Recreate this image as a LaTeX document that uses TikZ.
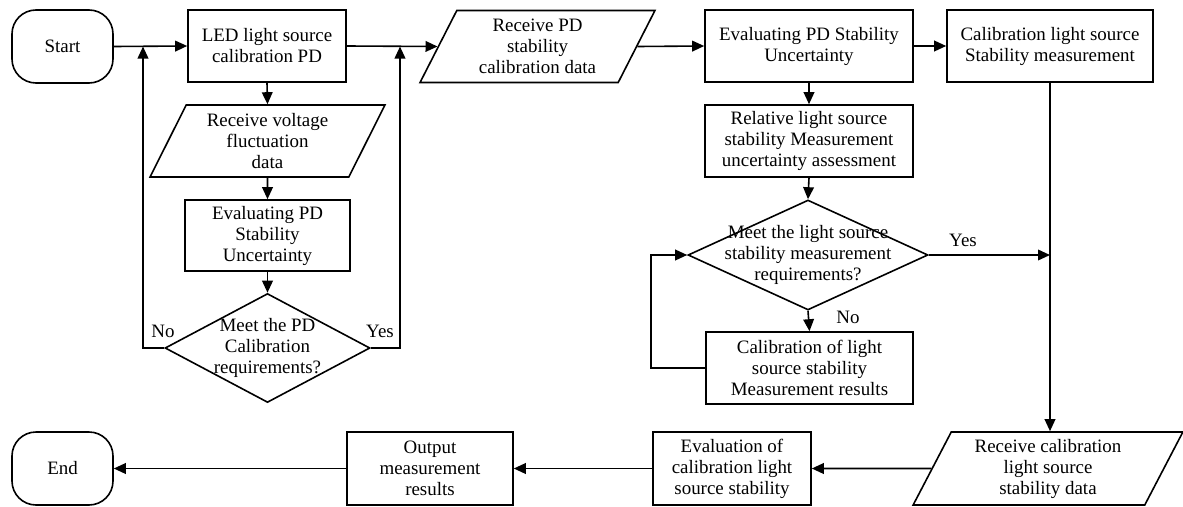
\documentclass[tikz,border=0pt]{standalone}
\usepackage{fontspec}
\setmainfont{Liberation Serif}
\usetikzlibrary{shapes.geometric,arrows.meta}

\newcommand{\pxu}{0.75pt}

\begin{document}
\begin{tikzpicture}[x=0.75pt, y=-0.75pt, line width=1.2pt,
    every node/.style={font=\fontsize{14.2}{15.75}\selectfont},
    box/.style={draw, rectangle, align=center, inner sep=0pt, minimum height=72*\pxu},
    data/.style={draw, trapezium, trapezium left angle=64, trapezium right angle=116,
        trapezium stretches=true, align=center, inner sep=0pt, minimum height=72*\pxu},
    term/.style={draw, rectangle, rounded corners=18pt, minimum width=101*\pxu, minimum height=73*\pxu},
    decision/.style={draw, diamond, inner sep=0pt},
    arr/.style={-{Triangle[length=9pt,width=8pt]}},
    lbl/.style={inner sep=0pt}]

    \useasboundingbox (0,0) rectangle (1183,507);

	% Top row
    \node (start) [term] at (62.5,46.5) {Start};
    \node (led) [box, minimum width=158*\pxu] at (267,46) {LED light source\\calibration PD};
    \node (recvPD) [data, minimum width=235*\pxu] at (537.5,46.5) {Receive PD\\stability\\calibration data};
    \node (evalPD) [box, minimum width=208*\pxu] at (809,46) {Evaluating PD Stability\\Uncertainty};
    \node (calib) [box, minimum width=206*\pxu] at (1050,46) {Calibration light source\\Stability measurement};

	% PD calibration loop
    \node (recvV) [data, minimum width=235*\pxu] at (267.5,141) {Receive voltage\\fluctuation\\data};
    \node (evalV) [box, minimum width=165*\pxu, minimum height=71*\pxu] at (267.5,235.5) {Evaluating PD\\Stability\\Uncertainty};
    \node (meetPD) [decision, minimum width=205*\pxu, minimum height=109*\pxu,
        label={[align=center]center:Meet the PD\\Calibration\\requirements?}] at (267.5,348) {};
    \coordinate (noJ) at (143,46.5);
    \coordinate (yesJ) at (400,46.5);
    \node (noPD) [lbl] at (163,331) {No};
    \node (yesPD) [lbl] at (380,331) {Yes};

	% Light source stability loop
    \node (rel) [box, minimum width=208*\pxu] at (809,141) {Relative light source\\stability Measurement\\uncertainty assessment};
    \node (meetLS) [decision, minimum width=240*\pxu, minimum height=110*\pxu,
        label={[align=center]center:Meet the light source\\stability measurement\\requirements?}] at (808,255) {};
    \node (corr) [box, minimum width=207*\pxu] at (809.5,368) {Calibration of light\\source stability\\Measurement results};
    \coordinate (yesLS) at (calib.south |- meetLS.east);
    \node (yesLSl) [lbl] at (963,240) {Yes};
    \node (noLS) [lbl] at (848,317) {No};

	% Bottom row
    \node (recvC) [data, minimum width=270*\pxu, minimum height=73*\pxu] at (1048,468.5) {Receive calibration\\light source\\stability data};
    \node (evalC) [box, minimum width=158*\pxu, minimum height=73*\pxu] at (732,468.5) {Evaluation of\\calibration light\\source stability};
    \node (out) [box, minimum width=166*\pxu, minimum height=73*\pxu] at (430,468.5) {Output\\measurement\\results};
    \node (end) [term] at (62.5,468.5) {End};

	% Connectors
    \draw[arr] (start.east) -- (led.west);
    \draw[arr] (led.south) -- (recvV.north);
    \draw[arr] (recvV.south) -- (evalV.north);
    \draw[arr] (evalV.south) -- (meetPD.north);
    \draw[arr] (meetPD.west) -| (noJ);
    \draw[arr] (meetPD.east) -| (yesJ);
    \draw[arr] (led.east) -- (recvPD.west);
    \draw[arr] (recvPD.east) -- (evalPD.west);
    \draw[arr] (evalPD.east) -- (calib.west);
    \draw[arr] (evalPD.south) -- (rel.north);
    \draw[arr] (rel.south) -- (meetLS.north);
    \draw[arr] (meetLS.east) -- (yesLS);
    \draw[arr] (meetLS.south) -- (corr.north);
    \draw[arr] (corr.west) -- ++(-54,0) |- (meetLS.west);
    \draw[arr] (calib.south) -- (calib.south |- recvC.north);
    \draw[arr] (recvC.west) -- (evalC.east);
    \draw[arr] (evalC.west) -- (out.east);
    \draw[arr] (out.west) -- (end.east);

\end{tikzpicture}
\end{document}
